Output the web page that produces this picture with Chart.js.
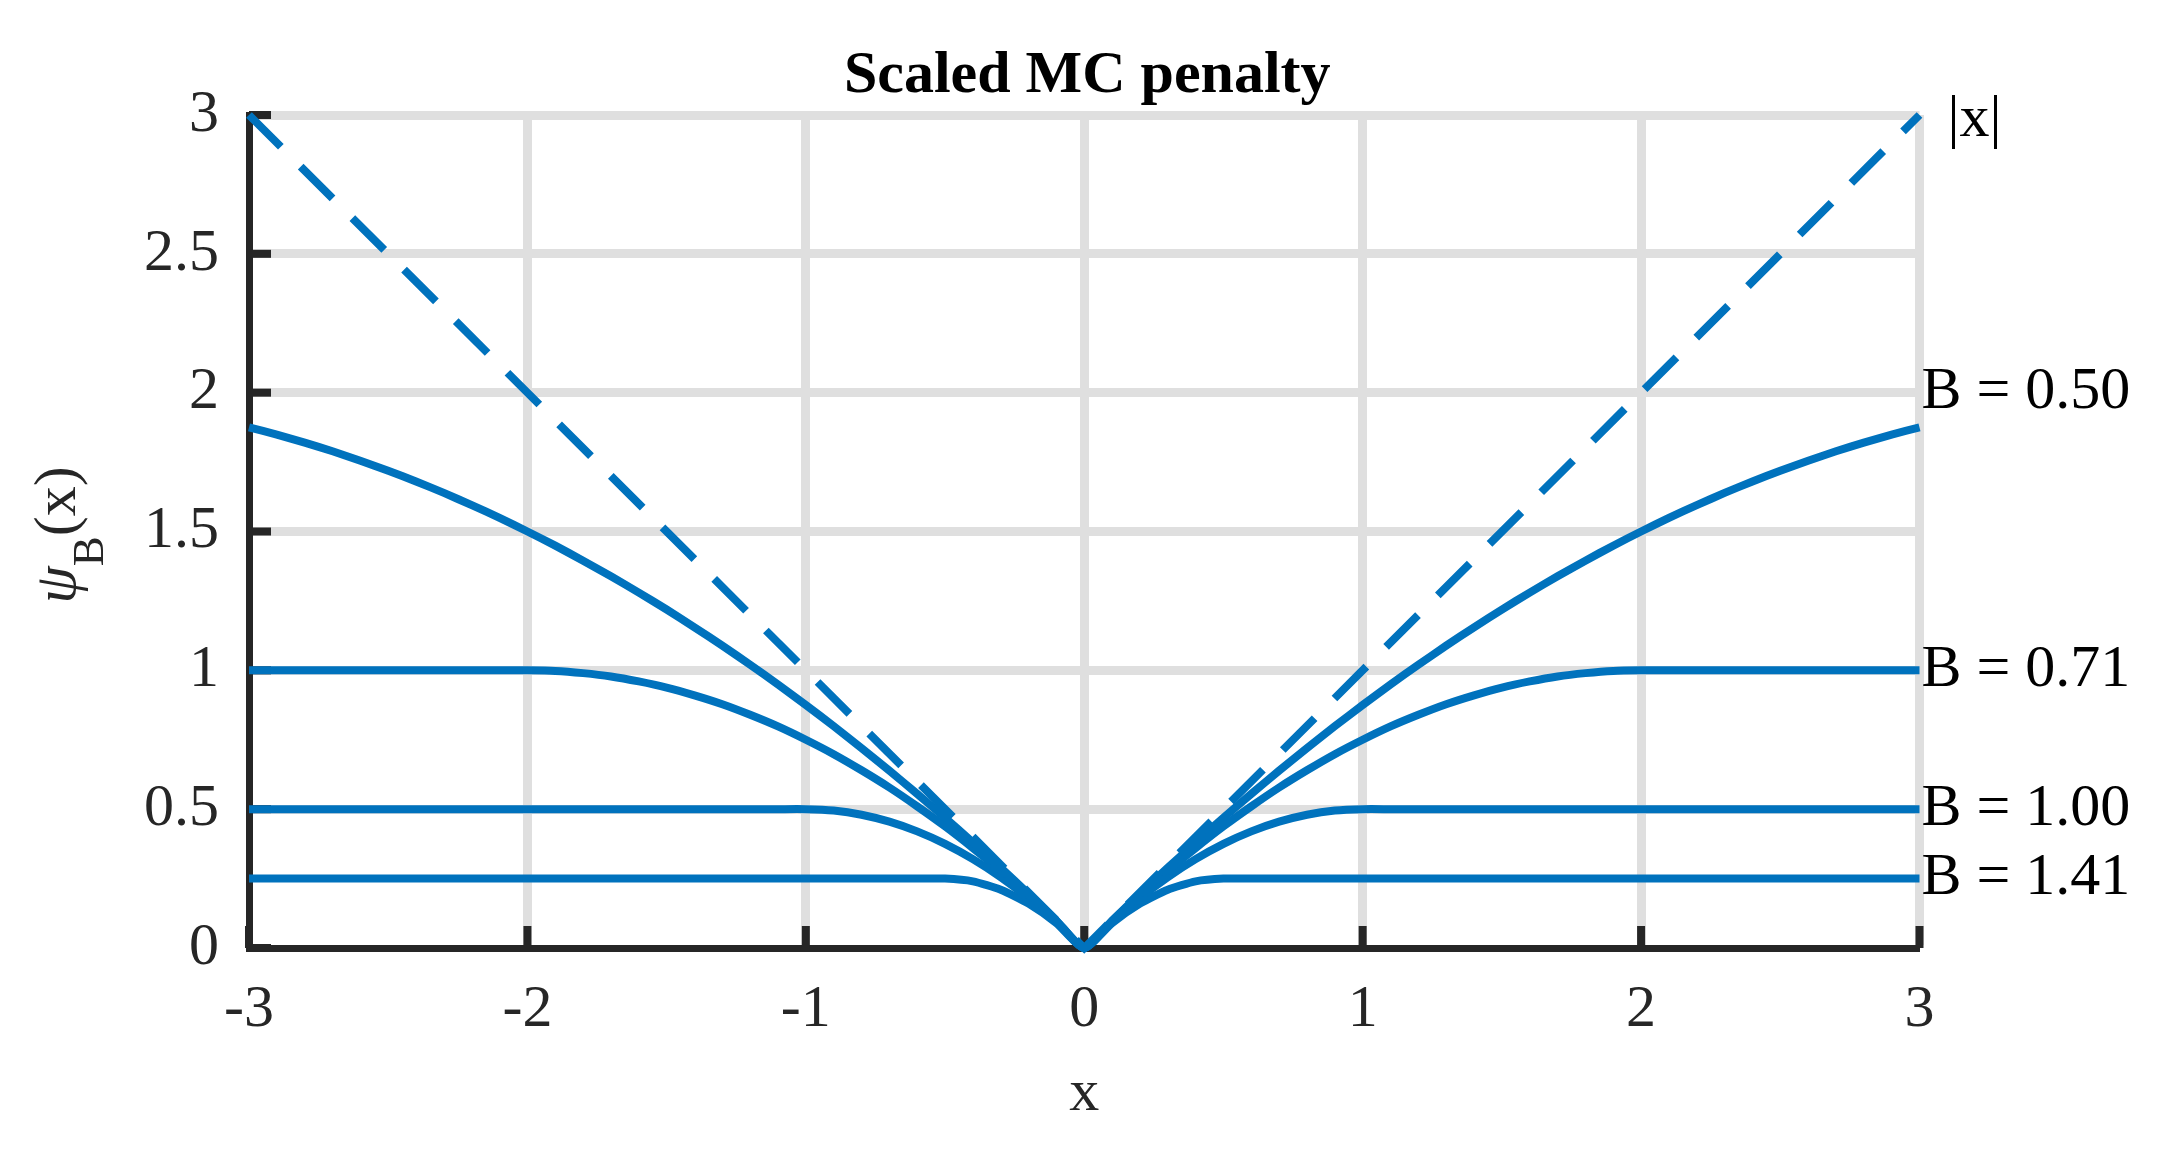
<!DOCTYPE html>
<html>
<head>
<meta charset="utf-8">
<script src="https://cdn.jsdelivr.net/npm/chart.js@4.4.1/dist/chart.umd.min.js"></script>
<style>
html,body{margin:0;padding:0;background:#fff;overflow:hidden}
#wrap{width:2173px;height:1152px;position:relative}
canvas{display:block}
</style>
</head>
<body>
<div id="wrap"><canvas id="c" width="2173" height="1152"></canvas></div>
<script>
// ---------- data ----------
const xValues = [-3,-2.9,-2.8,-2.7,-2.6,-2.5,-2.4,-2.3,-2.2,-2.1,
  -2,-1.9,-1.8,-1.7,-1.6,-1.5,-1.4,-1.3,-1.2,-1.1,
  -1,-0.9,-0.8,-0.7,-0.6,-0.5,-0.4,-0.3,-0.2,-0.1,
  0,
  0.1,0.2,0.3,0.4,0.5,0.6,0.7,0.8,0.9,1,
  1.1,1.2,1.3,1.4,1.5,1.6,1.7,1.8,1.9,2,
  2.1,2.2,2.3,2.4,2.5,2.6,2.7,2.8,2.9,3];

const psiB050 = [1.875,1.849,1.82,1.789,1.755,1.719,1.68,1.639,1.595,1.549,
  1.5,1.449,1.395,1.339,1.28,1.219,1.155,1.089,1.02,0.949,
  0.875,0.799,0.72,0.639,0.555,0.469,0.38,0.289,0.195,0.099,
  0,
  0.099,0.195,0.289,0.38,0.469,0.555,0.639,0.72,0.799,0.875,
  0.949,1.02,1.089,1.155,1.219,1.28,1.339,1.395,1.449,1.5,
  1.549,1.595,1.639,1.68,1.719,1.755,1.789,1.82,1.849,1.875];

const psiB071 = [1,1,1,1,1,1,1,1,1,1,
  1,0.998,0.99,0.978,0.96,0.938,0.91,0.878,0.84,0.798,
  0.75,0.698,0.64,0.578,0.51,0.438,0.36,0.278,0.19,0.098,
  0,
  0.098,0.19,0.278,0.36,0.438,0.51,0.578,0.64,0.698,0.75,
  0.798,0.84,0.878,0.91,0.938,0.96,0.978,0.99,0.998,1,
  1,1,1,1,1,1,1,1,1,1];

const psiB100 = [0.5,0.5,0.5,0.5,0.5,0.5,0.5,0.5,0.5,0.5,
  0.5,0.5,0.5,0.5,0.5,0.5,0.5,0.5,0.5,0.5,
  0.5,0.495,0.48,0.455,0.42,0.375,0.32,0.255,0.18,0.095,
  0,
  0.095,0.18,0.255,0.32,0.375,0.42,0.455,0.48,0.495,0.5,
  0.5,0.5,0.5,0.5,0.5,0.5,0.5,0.5,0.5,0.5,
  0.5,0.5,0.5,0.5,0.5,0.5,0.5,0.5,0.5,0.5];

const psiB141 = [0.25,0.25,0.25,0.25,0.25,0.25,0.25,0.25,0.25,0.25,
  0.25,0.25,0.25,0.25,0.25,0.25,0.25,0.25,0.25,0.25,
  0.25,0.25,0.25,0.25,0.25,0.25,0.24,0.21,0.16,0.09,
  0,
  0.09,0.16,0.21,0.24,0.25,0.25,0.25,0.25,0.25,0.25,
  0.25,0.25,0.25,0.25,0.25,0.25,0.25,0.25,0.25,0.25,
  0.25,0.25,0.25,0.25,0.25,0.25,0.25,0.25,0.25,0.25];

const absXValues = [-3, 0, 3];
const absYValues = [3, 0, 3];

const xTicks = [-3,-2,-1,0,1,2,3];
const yTicks = [0,0.5,1,1.5,2,2.5,3];

const curveLabels = ['B = 0.50','B = 0.71','B = 1.00','B = 1.41'];
const curveLabelY = [2, 1, 0.5, 0.25];
const absLabel = '|x|';
const titleText = 'Scaled MC penalty';
const xAxisTitle = 'x';

// ---------- styling ----------
const FONT = "'Liberation Serif','Times New Roman',Times,serif";
const BLUE = '#0072BD';
const AXIS = '#262626';
const GRID = '#dfdfdf';

const toPts = (xs, ys) => xs.map((x, i) => ({x: x, y: ys[i]}));

const decor = {
  id: 'decor',
  beforeDatasetsDraw(chart) {
    const {ctx, chartArea: a, scales: {x, y}} = chart;
    ctx.save();
    ctx.strokeStyle = AXIS;
    ctx.lineWidth = 8;
    ctx.lineCap = 'butt';
    xTicks.forEach(v => {
      const px = x.getPixelForValue(v);
      ctx.beginPath(); ctx.moveTo(px, a.bottom); ctx.lineTo(px, a.bottom - 22); ctx.stroke();
    });
    yTicks.forEach(v => {
      const py = y.getPixelForValue(v);
      ctx.beginPath(); ctx.moveTo(a.left, py); ctx.lineTo(a.left + 22, py); ctx.stroke();
    });
    ctx.restore();
  },
  afterDraw(chart) {
    const {ctx, chartArea: a, scales: {x, y}} = chart;
    ctx.save();
    const cx = (a.left + a.right) / 2;
    // title
    ctx.fillStyle = '#000';
    ctx.font = 'bold 60px ' + FONT;
    ctx.textAlign = 'center';
    ctx.textBaseline = 'alphabetic';
    ctx.fillText(titleText, cx + 3, 92);
    // x axis title
    ctx.fillStyle = AXIS;
    ctx.font = '60px ' + FONT;
    ctx.fillText(xAxisTitle, cx, 1110);
    // y axis title  psi_B(x)
    ctx.save();
    ctx.translate(75, 535);
    ctx.rotate(-Math.PI / 2);
    ctx.textAlign = 'left';
    ctx.font = 'italic 60px ' + FONT; const w1 = ctx.measureText('ψ').width;
    ctx.font = '45px ' + FONT; const w2 = ctx.measureText('B').width;
    ctx.font = '60px ' + FONT; const w3 = ctx.measureText('(x)').width;
    let sx = -(w1 + w2 + w3) / 2;
    ctx.font = 'italic 60px ' + FONT; ctx.fillText('ψ', sx, 0); sx += w1;
    ctx.font = '45px ' + FONT; ctx.fillText('B', sx, 28); sx += w2;
    ctx.font = '60px ' + FONT; ctx.fillText('(x)', sx, 0);
    ctx.restore();
    // curve labels
    ctx.fillStyle = '#000';
    ctx.font = '60px ' + FONT;
    ctx.textAlign = 'left';
    ctx.textBaseline = 'middle';
    const xr = x.getPixelForValue(3);
    curveLabels.forEach((t, i) => ctx.fillText(t, xr + 2, y.getPixelForValue(curveLabelY[i])));
    ctx.fillText(absLabel, xr + 28, y.getPixelForValue(3) + 5);
    ctx.restore();
  }
};

const lineDs = (ys) => ({
  data: toPts(xValues, ys),
  borderColor: BLUE,
  borderWidth: 8,
  pointRadius: 0,
  tension: 0.2,
  fill: false,
  clip: false
});

new Chart(document.getElementById('c'), {
  type: 'line',
  data: {
    datasets: [
      {
        data: toPts(absXValues, absYValues),
        borderColor: BLUE,
        borderWidth: 8,
        borderDash: [45, 28],
        pointRadius: 0,
        tension: 0,
        fill: false,
        clip: false
      },
      lineDs(psiB050),
      lineDs(psiB071),
      lineDs(psiB100),
      lineDs(psiB141)
    ]
  },
  options: {
    responsive: false,
    devicePixelRatio: 1,
    animation: false,
    layout: {padding: {left: 0, right: 253.5, top: 115, bottom: 0}},
    plugins: {legend: {display: false}, tooltip: {enabled: false}, title: {display: false}},
    scales: {
      x: {
        type: 'linear',
        min: -3, max: 3,
        afterBuildTicks: s => { s.ticks = xTicks.map(v => ({value: v})); },
        afterFit: s => { s.height = 204; },
        ticks: {font: {family: FONT, size: 60}, color: AXIS, padding: 26, maxRotation: 0,
                callback: v => String(v)},
        grid: {color: GRID, lineWidth: c => (c.tick && c.tick.value === -3) ? 0 : 9, drawTicks: false},
        border: {display: true, color: AXIS, width: 7}
      },
      y: {
        type: 'linear',
        min: 0, max: 3,
        afterBuildTicks: s => { s.ticks = yTicks.map(v => ({value: v})); },
        afterFit: s => { s.width = 249; },
        ticks: {font: {family: FONT, size: 60}, color: AXIS, padding: 30,
                callback: v => String(v)},
        grid: {color: GRID, lineWidth: c => (c.tick && c.tick.value === 0) ? 0 : 9, drawTicks: false},
        border: {display: true, color: AXIS, width: 7}
      }
    }
  },
  plugins: [decor]
});
</script>
</body>
</html>
